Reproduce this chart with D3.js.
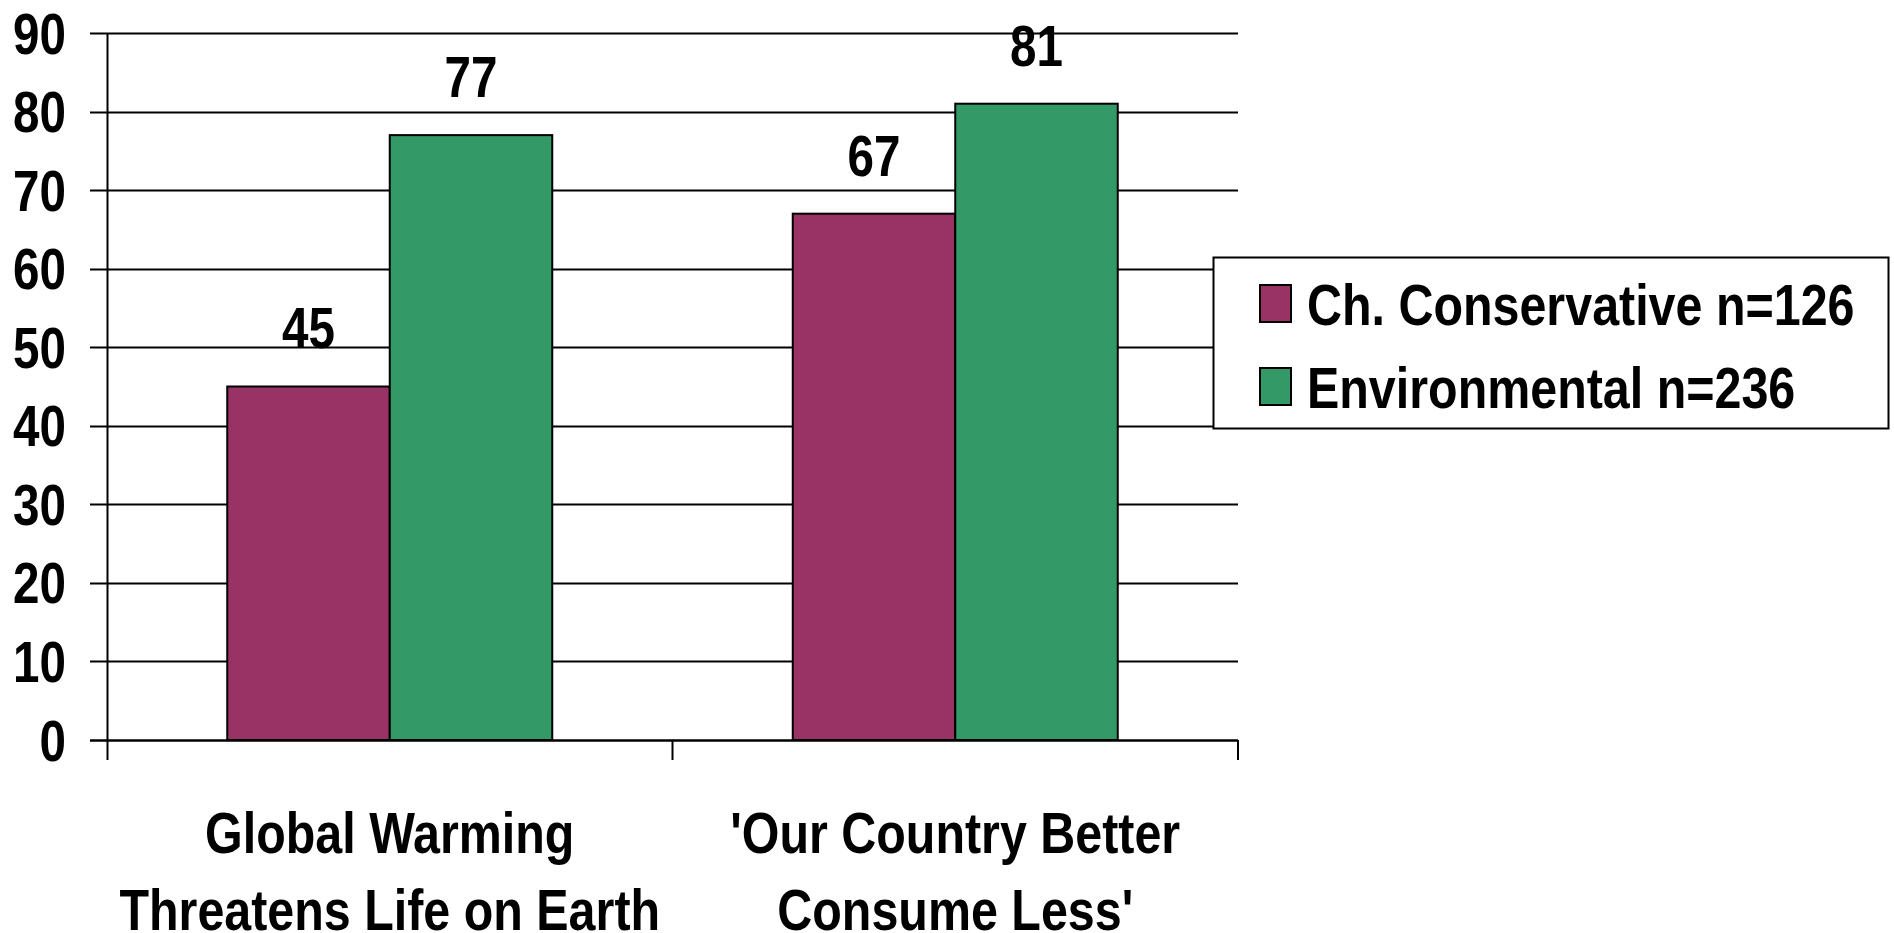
<!DOCTYPE html>
<html>
<head>
<meta charset="utf-8">
<script src="https://cdn.jsdelivr.net/npm/d3@7"></script>
<style>
  html, body { margin: 0; padding: 0; background: #fff; }
  svg { display: block; }
  text { font-family: "Liberation Sans", Arial, sans-serif; font-weight: bold; fill: #000; }
</style>
</head>
<body>
<svg id="chart" width="1894" height="933"></svg>
<script>
// Survey results: share agreeing with each statement, by group
const categories = [
  ["Global Warming", "Threatens Life on Earth"],
  ["'Our Country Better", "Consume Less'"]
];
const categoryKeys = ["warming", "consume"];
const seriesNames = ["Ch. Conservative n=126", "Environmental n=236"];
const conservativeValues = [45, 67];
const environmentalValues = [77, 81];
const seriesColors = ["#993366", "#339966"];
const yTicks = [0, 10, 20, 30, 40, 50, 60, 70, 80, 90];

// horizontal squeeze giving a narrow, condensed look to the bold sans
const SX = 0.835;
const narrow = `scale(${SX},1)`;

const svg = d3.select("#chart");

const plot = { left: 107, right: 1238, top: 33, bottom: 740 };

const y = d3.scaleLinear().domain([0, 90]).range([plot.bottom, plot.top]);
const x = d3.scaleBand().domain(categoryKeys).range([plot.left, plot.right]).padding(0);
const xSub = d3.scaleBand().domain([0, 1]).range([0, x.bandwidth()])
  .paddingInner(0).paddingOuter(0.74);

const seriesValues = [conservativeValues, environmentalValues];

// horizontal gridlines, extended left past the axis as tick marks
svg.append("g")
  .selectAll("line")
  .data(yTicks)
  .join("line")
  .attr("x1", plot.left - 17)
  .attr("x2", plot.right)
  .attr("y1", d => Math.round(y(d)) + 0.5)
  .attr("y2", d => Math.round(y(d)) + 0.5)
  .attr("stroke", "#000")
  .attr("stroke-width", 2);

// y tick labels
svg.append("g")
  .selectAll("text")
  .data(yTicks)
  .join("text")
  .attr("transform", narrow)
  .attr("x", 66 / SX)
  .attr("y", d => y(d))
  .attr("dy", "0.36em")
  .attr("text-anchor", "end")
  .attr("font-size", 57)
  .text(d => d);

// bars
const bars = [];
categoryKeys.forEach((c, i) => {
  seriesValues.forEach((vals, s) => bars.push({ cat: c, s, v: vals[i] }));
});

svg.append("g")
  .selectAll("rect")
  .data(bars)
  .join("rect")
  .attr("x", d => x(d.cat) + xSub(d.s))
  .attr("width", xSub.bandwidth())
  .attr("y", d => y(d.v))
  .attr("height", d => y(0) - y(d.v))
  .attr("fill", d => seriesColors[d.s])
  .attr("stroke", "#000")
  .attr("stroke-width", 2);

// value labels above the bars
svg.append("g")
  .selectAll("text")
  .data(bars)
  .join("text")
  .attr("transform", narrow)
  .attr("x", d => (x(d.cat) + xSub(d.s) + xSub.bandwidth() / 2) / SX)
  .attr("y", d => y(d.v) - 38)
  .attr("text-anchor", "middle")
  .attr("font-size", 57)
  .text(d => d.v);

// axes lines
svg.append("line")
  .attr("x1", plot.left + 0.5).attr("x2", plot.left + 0.5)
  .attr("y1", plot.top).attr("y2", plot.bottom + 20)
  .attr("stroke", "#000").attr("stroke-width", 2);

svg.append("line")
  .attr("x1", plot.left - 17).attr("x2", plot.right)
  .attr("y1", plot.bottom + 0.5).attr("y2", plot.bottom + 0.5)
  .attr("stroke", "#000").attr("stroke-width", 2);

// category separators below the baseline
const sepX = categoryKeys.map(c => x(c)).concat([x(categoryKeys[categoryKeys.length - 1]) + x.bandwidth()]);
svg.append("g")
  .selectAll("line")
  .data(sepX.slice(1))
  .join("line")
  .attr("x1", d => d).attr("x2", d => d)
  .attr("y1", plot.bottom).attr("y2", plot.bottom + 20)
  .attr("stroke", "#000").attr("stroke-width", 2);

// category labels, two lines each
const catLabels = svg.append("g")
  .selectAll("text")
  .data(categoryKeys)
  .join("text")
  .attr("transform", narrow)
  .attr("text-anchor", "middle")
  .attr("font-size", 58);
catLabels.each(function(c, i) {
  const t = d3.select(this);
  categories[i].forEach((line, j) => {
    t.append("tspan")
      .attr("x", (x(c) + x.bandwidth() / 2) / SX)
      .attr("y", 853 + j * 77)
      .text(line);
  });
});

// legend
const legend = svg.append("g");
legend.append("rect")
  .attr("x", 1213.5).attr("y", 257.5)
  .attr("width", 675).attr("height", 171)
  .attr("fill", "#fff")
  .attr("stroke", "#000").attr("stroke-width", 2);

const legendRows = legend.selectAll("g.row")
  .data(seriesNames)
  .join("g")
  .attr("class", "row")
  .attr("transform", (d, i) => `translate(0, ${i * 83})`);

legendRows.append("rect")
  .attr("x", 1260).attr("y", 285)
  .attr("width", 31).attr("height", 37)
  .attr("fill", (d, i) => seriesColors[i])
  .attr("stroke", "#000").attr("stroke-width", 2);

legendRows.append("text")
  .attr("transform", narrow)
  .attr("x", 1307 / SX).attr("y", 325)
  .attr("font-size", 58)
  .text(d => d);
</script>
</body>
</html>
